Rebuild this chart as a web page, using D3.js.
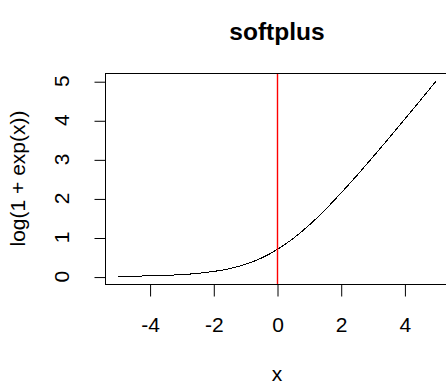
<!DOCTYPE html>
<html>
<head>
<meta charset="utf-8">
<script src="https://cdn.jsdelivr.net/npm/d3@7"></script>
<style>
  html, body { margin: 0; padding: 0; background: #fff; overflow: hidden; }
  svg { display: block; font-family: "Liberation Sans", Arial, sans-serif; }
</style>
</head>
<body>
<svg id="chart" width="446" height="383"></svg>
<script>
// softplus curve: log(1 + exp(x)) sampled over [-5, 5]
const xs = [-5, -4.5, -4, -3.5, -3, -2.5, -2, -1.5, -1, -0.5, 0, 0.5, 1, 1.5, 2, 2.5, 3, 3.5, 4, 4.5, 5];
const ys = [0.01, 0.01, 0.02, 0.03, 0.05, 0.08, 0.13, 0.20, 0.31, 0.47, 0.69, 0.97, 1.31, 1.70, 2.13, 2.58, 3.05, 3.53, 4.02, 4.51, 5.01];

const xTicks = [-4, -2, 0, 2, 4];
const xTickLabels = ["-4", "-2", "0", "2", "4"];
const yTicks = [0, 1, 2, 3, 4, 5];
const yTickLabels = ["0", "1", "2", "3", "4", "5"];
const vLineAt = [0];

const title = "softplus";
const xTitle = "x";
const yTitle = "log(1 + exp(x))";

// plot region (R-style 4% padding around data range)
const plot = { left: 105, right: 449, top: 73, bottom: 284 };
const pad = (lo, hi) => { const d = (hi - lo) * 0.04; return [lo - d, hi + d]; };

const x = d3.scaleLinear().domain(pad(d3.min(xs), d3.max(xs))).range([plot.left, plot.right]);
const y = d3.scaleLinear().domain(pad(d3.min(ys), d3.max(ys))).range([plot.bottom, plot.top]);

const svg = d3.select("#chart");
const fontSize = 21;

// curve
const pts = xs.map((v, i) => [v, ys[i]]);
svg.append("path")
  .datum(pts)
  .attr("fill", "none")
  .attr("stroke", "#000")
  .attr("stroke-width", 1)
  .attr("shape-rendering", "crispEdges")
  .attr("d", d3.line().x(d => x(d[0])).y(d => y(d[1])).curve(d3.curveMonotoneX));

// box
svg.append("rect")
  .attr("x", plot.left + 0.5)
  .attr("y", plot.top + 0.5)
  .attr("width", plot.right - plot.left)
  .attr("height", plot.bottom - plot.top)
  .attr("fill", "none")
  .attr("stroke", "#000")
  .attr("stroke-width", 1);

// vertical reference line
svg.selectAll("line.vref")
  .data(vLineAt)
  .join("line")
  .attr("class", "vref")
  .attr("x1", d => x(d) + 0.5)
  .attr("x2", d => x(d) + 0.5)
  .attr("y1", plot.top + 1)
  .attr("y2", plot.bottom)
  .attr("stroke", "#ff0000")
  .attr("stroke-width", 1.4);

// x axis
const xAxis = svg.append("g")
  .attr("transform", `translate(0.5,${plot.bottom + 0.5})`)
  .call(d3.axisBottom(x).tickValues(xTicks).tickSize(12).tickPadding(21)
    .tickFormat((d, i) => xTickLabels[i]));
xAxis.select(".domain").remove();
xAxis.selectAll("line").attr("stroke", "#000");
xAxis.selectAll("text")
  .attr("fill", "#000")
  .attr("font-size", fontSize)
  .attr("font-family", "Liberation Sans, Arial, sans-serif");

// y axis (labels parallel to the axis)
const yAxis = svg.append("g")
  .attr("transform", `translate(${plot.left + 0.5},0.5)`)
  .call(d3.axisLeft(y).tickValues(yTicks).tickSize(11).tickFormat(""));
yAxis.select(".domain").remove();
yAxis.selectAll("line").attr("stroke", "#000");
svg.append("g").selectAll("text")
  .data(yTicks)
  .join("text")
  .attr("transform", d => `translate(69,${y(d)}) rotate(-90)`)
  .attr("text-anchor", "middle")
  .attr("font-size", fontSize)
  .attr("fill", "#000")
  .text((d, i) => yTickLabels[i]);

// titles
svg.append("text")
  .attr("x", (plot.left + plot.right) / 2)
  .attr("y", 40)
  .attr("text-anchor", "middle")
  .attr("font-size", 24.5)
  .attr("font-weight", "bold")
  .attr("fill", "#000")
  .text(title);

svg.append("text")
  .attr("x", (plot.left + plot.right) / 2)
  .attr("y", 380.5)
  .attr("text-anchor", "middle")
  .attr("font-size", fontSize)
  .attr("fill", "#000")
  .text(xTitle);

svg.append("text")
  .attr("transform", `translate(25,${(plot.top + plot.bottom) / 2}) rotate(-90)`)
  .attr("text-anchor", "middle")
  .attr("font-size", fontSize)
  .attr("fill", "#000")
  .text(yTitle);
</script>
</body>
</html>
